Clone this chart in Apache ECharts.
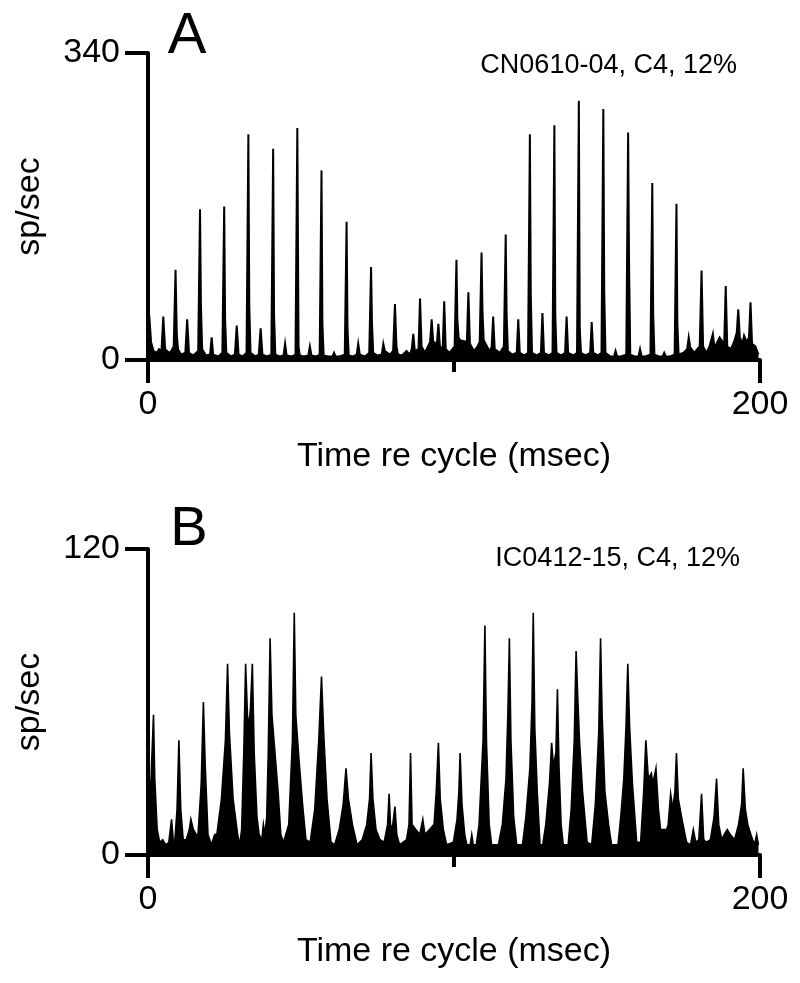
<!DOCTYPE html>
<html>
<head>
<meta charset="utf-8">
<script src="https://cdn.jsdelivr.net/npm/echarts@6/dist/echarts.min.js"></script>
<style>html,body{margin:0;padding:0;background:#fff}#c{width:800px;height:983px}</style>
</head>
<body>
<div id="c"></div>
<script>
// Panel A: [time (ms), rate (sp/sec)]
var histA = [
[0,62],[0.5,45],[1.0,20],[1.8,10],[2.8,8],[3.6,12],
[4.4,10],[5.0,48],[5.6,12],[6.8,8],[7.6,10],
[8.4,15],[9.0,100],[9.4,30],[9.8,12],[10.8,6],
[12.2,8],[12.8,45],[13.4,8],[14.8,5],
[16.4,10],[17.0,167],[17.3,60],[17.7,12],[19.0,5],
[20.3,6],[20.8,25],[21.3,6],[23.0,4],
[24.3,8],[24.9,170],[25.2,45],[25.6,8],[27.0,4],
[28.4,6],[29.0,38],[29.6,6],[31.0,4],
[32.2,8],[32.8,250],[33.1,60],[33.5,8],[35.0,4],
[36.2,6],[36.8,35],[37.4,6],[39.0,4],
[40.3,6],[40.9,234],[41.2,50],[41.6,6],[43.0,4],
[44.3,5],[44.8,18],[45.3,5],[47.0,4],
[48.2,6],[48.8,257],[49.2,15],[49.6,5],[51.0,4],
[52.4,5],[52.9,15],[53.4,5],[55.0,4],
[56.1,6],[56.7,210],[57.0,40],[57.4,5],[59.0,4],
[60.3,4],[60.8,8],[61.3,4],[62.5,4],
[64.3,6],[64.9,153],[65.2,35],[65.6,5],[67.0,4],
[68.2,6],[68.7,18],[69.2,6],[71.0,4],
[72.3,8],[72.9,103],[73.2,40],[73.6,8],[75.0,5],
[76.4,6],[76.9,18],[77.4,10],[79.0,6],
[80.1,10],[80.7,62],[81.2,15],[81.7,6],[83.0,5],[84.5,10],[85.5,6],
[86.2,12],[86.7,29],[87.2,10],[88.4,12],[88.9,68],[89.4,15],[90.5,8],[91.5,15],
[92.2,20],[92.7,45],[93.2,20],[94.4,18],[94.9,40],[95.4,15],[96.3,12],[96.8,65],[97.3,12],[98.5,8],
[100.2,15],[100.8,111],[101.1,45],[101.5,25],[102.0,22],
[104.2,20],[104.7,75],[105.2,18],[106.5,10],[107.5,14],
[108.4,20],[109.0,119],[109.3,55],[109.7,22],[110.8,15],[111.5,10],
[112.3,14],[112.8,48],[113.3,12],[115.0,8],
[116.3,15],[116.9,139],[117.2,50],[117.6,10],[119.0,6],
[120.5,8],[121.0,45],[121.5,8],[123.0,5],
[124.2,8],[124.8,250],[125.1,70],[125.5,8],[127.0,5],
[128.4,8],[128.9,52],[129.4,8],[131.0,5],
[132.2,8],[132.8,260],[133.1,50],[133.5,8],[135.0,5],
[136.3,8],[136.8,48],[137.3,8],[139.0,5],
[140.2,8],[140.8,287],[141.1,35],[141.5,8],[143.0,5],
[144.5,8],[145.0,42],[145.5,8],[147.0,5],
[148.2,8],[148.8,278],[149.1,75],[149.5,8],[151.0,4],
[152.3,4],[152.8,10],[153.3,4],[154.5,4],
[156.3,6],[156.9,252],[157.2,110],[157.6,6],[159.0,4],
[160.3,4],[160.8,12],[161.3,4],[162.5,4],
[164.2,6],[164.8,196],[165.1,50],[165.5,6],[167.0,4],
[168.2,4],[168.7,8],[169.2,4],[170.5,4],
[172.1,6],[172.7,173],[173.0,40],[173.4,6],[175.0,8],
[176.2,12],[176.7,25],[177.2,14],[178.5,8],[179.5,12],
[180.3,15],[180.9,99],[181.4,15],[182.5,8],[183.5,15],
[184.1,16],[184.6,29],[185.1,14],[185.8,18],[186.8,25],
[188.3,18],[188.8,82],[189.3,15],[190.5,12],[191.5,20],
[192.4,30],[192.9,56],[193.4,25],[194.3,18],[194.8,27],[195.6,20],
[196.4,25],[196.9,64],[197.4,18],[198.5,15],[199.5,6]
];

// Panel B: [time (ms), rate (sp/sec)]
var histB = [
[0,8],[1.0,30],[1.8,55],[2.2,30],[3.0,10],[3.8,5],[4.8,6],[5.8,4],
[6.8,5],[7.7,14],[8.3,5],
[8.8,6],[9.5,18],[10.1,45],[10.7,18],[11.5,6],
[12.5,6],[13.5,10],[14.0,14],[14.8,10],[15.8,8],
[16.3,7],[17.4,28],[18.1,60],[18.7,35],[19.6,8],[20.7,4],[21.8,8],
[22.5,8],[24.0,22],[25.3,45],[26.0,75],[26.6,48],[27.8,22],[29.3,8],[30.0,4],
[30.6,10],[31.3,40],[31.9,75],[32.5,55],[33.0,50],[33.5,58],[34.1,75],[34.7,40],[35.6,15],[36.3,8],
[37.2,6],[37.7,12],[38.2,8],
[38.8,15],[39.3,40],[39.9,85],[40.5,55],[41.5,40],[42.5,25],[43.4,8],
[44.3,5],[46.0,12],[47.2,45],[47.8,95],[48.3,55],[49.3,38],[50.5,20],[51.6,6],
[53.0,5],[54.5,18],[55.8,45],[56.7,70],[57.4,48],[58.5,22],[59.8,5],
[61.0,4],[62.5,10],[63.8,20],[64.7,34],[65.5,22],[66.8,12],[68.3,4],
[70.0,6],[71.5,12],[72.4,22],[72.9,40],[73.5,22],[74.5,10],[75.8,6],
[77.2,5],[78.3,12],[78.8,24],[79.3,10],[80.0,12],[80.7,19],[81.3,8],[82.2,4],
[84.5,6],[85.3,12],[85.8,40],[86.3,12],[87.5,10],[88.8,8],[89.8,14],[90.5,8],[92.0,10],[93.5,12],
[94.2,25],[94.9,44],[95.5,22],[96.5,10],[97.6,4],
[99.8,5],[101.0,14],[101.6,25],[102.0,40],[102.6,20],[103.5,8],[104.2,4],
[105.3,4],[105.8,8],[106.3,4],
[107.3,4],[108.2,12],[109.5,45],[110.1,90],[110.6,45],[111.5,12],[112.3,4],
[114.5,4],[115.8,12],[117.0,30],[117.6,55],[118.1,85],[118.6,45],[119.5,15],[120.5,4],
[122.4,4],[123.5,15],[124.8,34],[125.5,60],[125.9,95],[126.4,50],[127.2,25],[128.1,4],
[129.0,4],[130.0,12],[131.2,28],[131.9,44],[132.5,35],[133.3,40],[133.8,65],[134.3,35],[135.0,12],[135.7,4],
[137.3,4],[138.3,18],[139.3,45],[139.9,80],[140.5,60],[141.0,45],[142.0,25],[143.5,5],
[145.0,4],[146.2,20],[147.3,48],[147.9,85],[148.4,55],[149.3,25],[150.5,12],[151.5,4],
[153.6,4],[154.5,15],[155.5,30],[156.2,50],[156.8,75],[157.4,50],[158.3,28],[159.7,5],
[161.0,5],[162.0,25],[162.7,45],[163.5,30],[164.5,32],[165.0,28],[166.0,34],[166.8,18],[167.5,10],[169.5,10],
[170.0,12],[170.8,24],[171.5,18],[172.2,25],[172.7,40],[173.3,22],[174.5,14],[176.0,5],
[177.3,4],[178.2,10],[179.0,5],
[180.0,6],[180.9,24],[181.6,6],[182.5,5],
[183.8,6],[185.0,15],[185.8,30],[186.5,12],[187.5,6],
[188.3,8],[189.3,10],[190.3,8],
[191.7,6],[193.0,12],[194.0,20],[194.5,34],[195.2,18],[196.0,12],[197.0,8],
[198.2,4],[198.9,8],[199.5,4]
];

var xRange = [0, 200];
var yMaxA = 340;
var yMaxB = 120;
var panelLetters = ['A', 'B'];
var panelNotes = ['CN0610-04, C4, 12%', 'IC0412-15, C4, 12%'];
var xName = 'Time re cycle (msec)';
var yName = 'sp/sec';

var FONT = '"Liberation Sans", Arial, Helvetica, sans-serif';

function xAxisCfg(gi) {
  return {
    gridIndex: gi, type: 'value', min: xRange[0], max: xRange[1], interval: 200,
    name: xName, nameLocation: 'middle', nameGap: 80,
    nameTextStyle: {fontFamily: FONT, fontSize: 34, color: '#000'},
    axisLine: {lineStyle: {color: '#000', width: 4}},
    axisTick: {show: true, length: 23, lineStyle: {color: '#000', width: 4}},
    minorTick: {show: true, splitNumber: 2, length: 12, lineStyle: {color: '#000', width: 4}},
    axisLabel: {fontFamily: FONT, fontSize: 34, color: '#000', margin: 28},
    splitLine: {show: false}
  };
}
function yAxisCfg(gi, maxV) {
  return {
    gridIndex: gi, type: 'value', min: 0, max: maxV, interval: maxV,
    name: yName, nameLocation: 'middle', nameGap: 101,
    nameTextStyle: {fontFamily: FONT, fontSize: 34, color: '#000'},
    axisLine: {show: true, lineStyle: {color: '#000', width: 4}},
    axisTick: {show: true, length: 23, lineStyle: {color: '#000', width: 4}},
    axisLabel: {fontFamily: FONT, fontSize: 34, color: '#000', margin: 28},
    splitLine: {show: false}
  };
}
function seriesCfg(gi, data, lw) {
  return {
    type: 'line', xAxisIndex: gi, yAxisIndex: gi, data: data,
    showSymbol: false, symbol: 'none', smooth: false,
    lineStyle: {color: '#000', width: lw, join: 'miter'},
    areaStyle: {color: '#000', opacity: 1},
    z: 1
  };
}

var chart = echarts.init(document.getElementById('c'), null, {renderer: 'canvas'});
chart.setOption({
  animation: false,
  backgroundColor: '#fff',
  grid: [
    {left: 148, top: 53, width: 612, height: 307},
    {left: 148, top: 549, width: 612, height: 306}
  ],
  xAxis: [xAxisCfg(0), xAxisCfg(1)],
  yAxis: [yAxisCfg(0, yMaxA), yAxisCfg(1, yMaxB)],
  series: [seriesCfg(0, histA, 2), seriesCfg(1, histB, 1.6)],
  graphic: [
    {type: 'text', x: 187, y: 37, style: {text: panelLetters[0], font: '58px ' + FONT, fill: '#000', align: 'center', verticalAlign: 'middle'}},
    {type: 'text', x: 189, y: 530, style: {text: panelLetters[1], font: '56px ' + FONT, fill: '#000', align: 'center', verticalAlign: 'middle'}},
    {type: 'text', x: 737, y: 66, style: {text: panelNotes[0], font: '27px ' + FONT, fill: '#000', align: 'right', verticalAlign: 'middle'}},
    {type: 'text', x: 740, y: 559, style: {text: panelNotes[1], font: '27px ' + FONT, fill: '#000', align: 'right', verticalAlign: 'middle'}}
  ]
});
</script>
</body>
</html>
